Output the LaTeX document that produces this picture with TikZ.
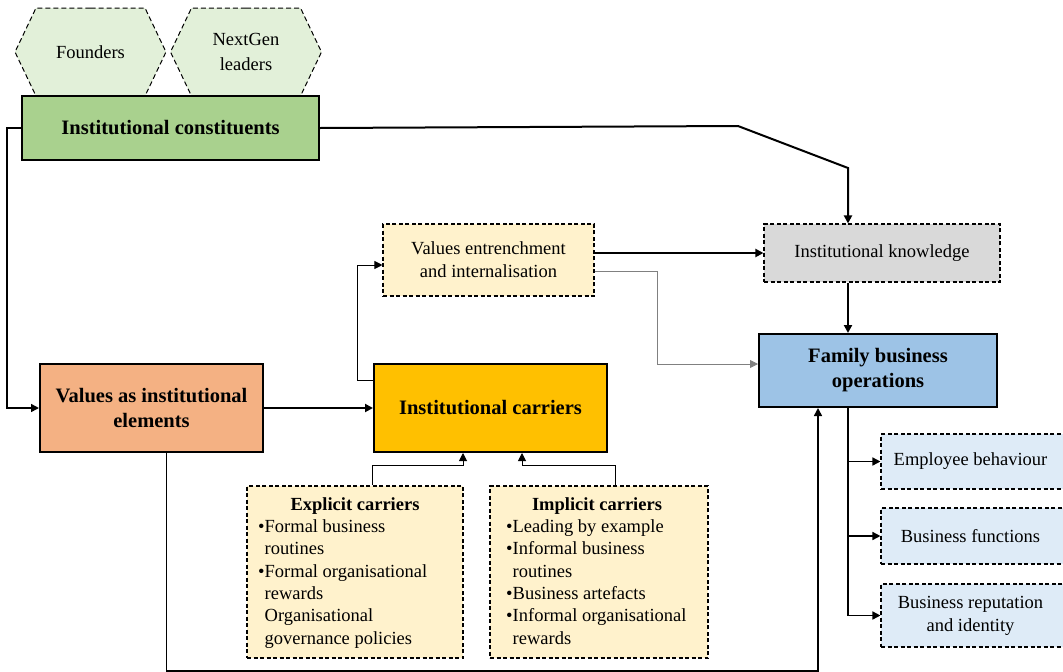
\documentclass[tikz,border=0pt]{standalone}
\usepackage{fontspec}
\setmainfont{Liberation Serif}
\usetikzlibrary{arrows.meta,shapes.symbols}

\begin{document}
\begin{tikzpicture}[x=1pt, y=-1pt, >={Triangle[length=8pt,width=8pt]}]
\tikzset{
  mainbox/.style={
    draw, rectangle, line width=2pt, inner sep=0pt,
    align=center, font=\fontsize{20.5}{25}\selectfont\bfseries
  },
  dashbox/.style={
    draw, rectangle, line width=1.1pt, inner sep=0pt,
    dash pattern=on 4pt off 2.5pt,
    align=center, font=\fontsize{18.5}{23}\selectfont
  },
  hexa/.style={
    draw, signal, signal to=west and east, signal pointer angle=129,
    dash pattern=on 5pt off 3pt, line width=1pt,
    minimum width=151pt, minimum height=88pt, inner sep=0pt,
    align=center, font=\fontsize{18.5}{25}\selectfont
  },
  list/.style={
    align=left, inner sep=0pt, anchor=north west,
    font=\fontsize{18.5}{22.3}\selectfont
  }
}
\definecolor{greenbox}{HTML}{A9D18E}
\definecolor{peach}{HTML}{F4B183}
\definecolor{gold}{HTML}{FFC000}
\definecolor{cream}{HTML}{FFF2CC}
\definecolor{greybox}{HTML}{D9D9D9}
\definecolor{bluebox}{HTML}{9DC3E6}
\definecolor{paleblue}{HTML}{DEEBF7}
\definecolor{palegreen}{HTML}{E2F0D9}
\useasboundingbox (0,0) rectangle (1063,672);

% Nodes
\node[hexa, fill=palegreen] (founders) at (90.5,52)  {Founders};
\node[hexa, fill=palegreen] (nextgen)  at (246,52)   {NextGen\\leaders};
\node[mainbox, fill=greenbox, minimum width=297pt, minimum height=64pt] (constituents) at (170.5,128) {Institutional constituents};

\node[dashbox, fill=cream, minimum width=211pt, minimum height=72pt] (entrench) at (488.5,260) {Values entrenchment\\and internalisation};
\node[dashbox, fill=greybox, minimum width=236pt, minimum height=58pt] (knowledge) at (882,253) {Institutional knowledge};
\node[mainbox, fill=bluebox, minimum width=238pt, minimum height=73pt] (family) at (878,370.5) {Family business\\operations};

\node[mainbox, fill=peach, minimum width=223pt, minimum height=88pt] (values) at (151.5,408) {Values as institutional\\elements};
\node[mainbox, fill=gold, minimum width=233pt, minimum height=88pt] (carriers) at (490.5,408) {Institutional carriers};

\node[dashbox, fill=cream, minimum width=216pt, minimum height=172pt] (explicit) at (355,572) {};
\node[dashbox, fill=cream, minimum width=218pt, minimum height=172pt] (implicit) at (599,572) {};
\node[font=\fontsize{18.5}{22}\selectfont\bfseries] (explicit title) at (355,506) {Explicit carriers};
\node[font=\fontsize{18.5}{22}\selectfont\bfseries] (implicit title) at (597,506) {Implicit carriers};
\node[list] (explicit list) at (258,519.5) {%
  •Formal business\\
  \phantom{•}routines\\
  •Formal organisational\\
  \phantom{•}rewards\\
  \phantom{•}Organisational\\
  \phantom{•}governance policies};
\node[list] (implicit list) at (506,519.5) {%
  •Leading by example\\
  •Informal business\\
  \phantom{•}routines\\
  •Business artefacts\\
  •Informal organisational\\
  \phantom{•}rewards};

\node[dashbox, fill=paleblue, minimum width=189pt, minimum height=55pt] (employee) at (975.5,461.5) {\hspace*{-10pt}Employee behaviour};
\node[dashbox, fill=paleblue, minimum width=189pt, minimum height=56pt] (functions) at (975.5,536) {\hspace*{-10pt}Business functions};
\node[dashbox, fill=paleblue, minimum width=189pt, minimum height=63pt] (reputation) at (975.5,615.5) {\hspace*{-10pt}Business reputation\\\hspace*{-10pt}and identity};

% Connectors
\coordinate (bend) at (848,168);
\draw[->, line width=2pt] (constituents.east) -- (738,126) -- (bend) -- (bend |- knowledge.north);
\draw[->, line width=1.5pt] (constituents.west) -- ++(-14,0) |- (values.west);
\draw[->, line width=2.2pt] (values) -- (carriers);
\draw[->, line width=1pt] ([yshift=-17pt]carriers.north west) -- ++(-16,0) |- ([yshift=-5pt]entrench.west);
\draw[->, line width=2pt] (entrench.east |- knowledge.west) -- (knowledge.west);
\draw[->, line width=0.8pt, gray] ([yshift=-11pt]entrench.east) -- ++(63,0) |- ([yshift=6.5pt]family.west);
\draw[->, line width=2pt] (knowledge.south -| bend) -- (family.north -| bend);
\draw[->, line width=1.5pt] ([xshift=15pt]values.south) -- ++(0,218) -| ([xshift=-60pt]family.south);
\coordinate (trunk) at (family.south -| bend);
\draw[->, line width=1.5pt] (trunk) |- (employee.west);
\draw[->, line width=1.5pt] (trunk) |- (functions.west);
\draw[->, line width=1.5pt] (trunk) |- (reputation.west);
\draw[->, line width=1pt] ([xshift=17pt]explicit.north) -- ++(0,-20) -| ([xshift=-27.5pt]carriers.south);
\draw[->, line width=1pt] ([xshift=16pt]implicit.north) -- ++(0,-20) -| ([xshift=31.5pt]carriers.south);

\end{tikzpicture}
\end{document}
